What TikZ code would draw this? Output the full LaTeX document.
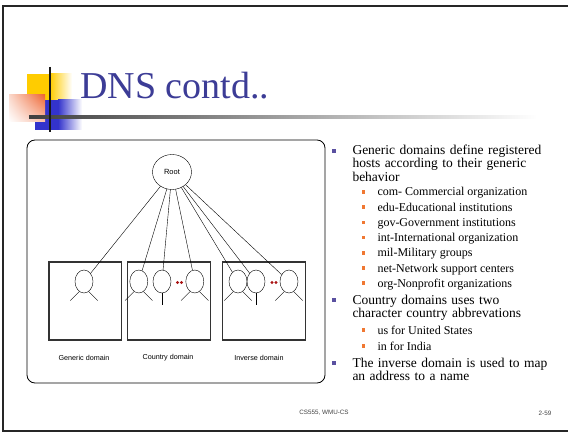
\documentclass[tikz,border=0pt]{standalone}
\usepackage{fontspec}
\setmainfont{Liberation Serif}
\setsansfont{Liberation Sans}
\usetikzlibrary{shapes.geometric,shadings}

\definecolor{titleblue}{RGB}{60,60,150}
\definecolor{deckyellow}{RGB}{255,204,0}
\definecolor{deckblue}{RGB}{51,51,204}
\definecolor{deckred}{RGB}{238,102,51}
\definecolor{dotred}{RGB}{170,20,20}
\definecolor{bulletpurple}{RGB}{90,80,160}
\definecolor{bulletorange}{RGB}{240,120,50}

\tikzset{
  host/.style={ellipse, draw, minimum width=18, minimum height=23, inner sep=0},
  domainbox/.style={draw, line width=1.2, black!80},
  domainlabel/.style={font=\sffamily\fontsize{7.2}{7.2}\selectfont, inner sep=0},
  mainbullet/.style={fill=bulletpurple, minimum size=4, inner sep=0},
  subbullet/.style={fill=bulletorange, minimum size=3.5, inner sep=0},
  maintext/.style={anchor=base west, align=left, text width=215, inner sep=0},
  subtext/.style={anchor=base west, inner sep=0, font=\fontsize{12}{12}\selectfont},
  footer/.style={font=\sffamily\fontsize{6.3}{6.3}\selectfont, text=black!75, inner sep=0}
}

\begin{document}
\begin{tikzpicture}[x=1pt,y=-1pt]
    \useasboundingbox (0,0) rectangle (568,433);

    % Slide frame
    \draw[line width=2, black!85] (568,6) -- (3,6) -- (3,431) -- (568,431);

    % Title decoration
    \fill[deckyellow] (27,74) rectangle (50,100);
    \shade[left color=deckyellow, right color=white] (50,74) rectangle (72,100);
    \fill[deckblue] (35,100) rectangle (58,130);
    \shade[left color=deckblue, right color=white] (58,100) rectangle (82,130);
    \shade[upper right=deckred, upper left=deckred!25, lower right=deckred!40, lower left=white] (9,95) rectangle (45,122);
    \shade[left color=black!75, right color=white] (29,116) rectangle (537,118.5);
    \draw[line width=2, black!90] (50,67) -- (50,132);
    \node[anchor=base west, inner sep=0, text=titleblue, font=\fontsize{38}{38}\selectfont] (title) at (80,99) {DNS contd..};

    % Name space tree
    \draw[rounded corners=8, line width=0.8] (27,140) rectangle (325,383);
    \node[ellipse, draw, minimum width=39, minimum height=35, inner sep=0, font=\sffamily\fontsize{7.5}{7.5}\selectfont] (root) at (172,172) {Root};

    \draw[domainbox] (49,262) rectangle (121.5,340);
    \draw[domainbox] (127.3,262) rectangle (210.7,340);
    \draw[domainbox] (222.7,262) rectangle (305.7,340);
    \node[domainlabel] (genlabel) at (84,358) {Generic domain};
    \node[domainlabel] (ctrylabel) at (168,358) {Country domain};
    \node[domainlabel] (invlabel) at (259,358) {Inverse domain};

    \node[host] (g1) at (84,281.5) {};
    \node[host] (c1) at (138.8,281.5) {};
    \node[host] (c2) at (162,281.5) {};
    \node[host] (c3) at (194.8,281.5) {};
    \node[host] (i1) at (238,281.5) {};
    \node[host] (i2) at (256,281.5) {};
    \node[host] (i3) at (289,281.5) {};

    \fill[dotred] (177.5,282.5) circle (1.6) (181.5,282.5) circle (1.6);
    \fill[dotred] (272,282.5) circle (1.6) (276,282.5) circle (1.6);

    \foreach \n in {g1,c1,c2,c3,i1,i2,i3}
        \draw (root) -- (\n);
    \foreach \n in {g1,c1,c3,i1,i3} {
        \draw (\n.-115) -- ++(-9,9);
        \draw (\n.-65) -- ++(9,9);
    }
    \foreach \n in {c2,i2}
        \draw (\n.south) -- ++(0,12);

    % Bullet list
    \node[mainbullet] (mb1) at (334,151) {};
    \node[maintext, font=\fontsize{13.5}{11.4}\selectfont] (mt1) at (352.3,154.5) {Generic domains define registered\\hosts according to their generic\\behavior};
    \foreach \txt [count=\k] in {com- Commercial organization, edu-Educational institutions, gov-Government institutions, int-International organization, mil-Military groups, net-Network support centers, org-Nonprofit organizations} {
        \node[subbullet] (sb\k) at (363.3,{192+15.2*(\k-1)}) {};
        \node[subtext] (st\k) at (377.3,{196+15.2*(\k-1)}) {\txt};
    }
    \node[mainbullet] (mb2) at (334,300) {};
    \node[maintext, font=\fontsize{13.5}{13.3}\selectfont] (mt2) at (352.3,304) {Country domains uses two\\character country abbrevations};
    \node[subbullet] (sb8) at (363.3,330) {};
    \node[subtext] (st8) at (377.3,334) {us for United States};
    \node[subbullet] (sb9) at (363.3,346) {};
    \node[subtext] (st9) at (377.3,350) {in for India};
    \node[mainbullet] (mb3) at (334,363) {};
    \node[maintext, font=\fontsize{13.5}{13}\selectfont] (mt3) at (352.3,367) {The inverse domain is used to map\\an address to a name};

    % Footer
    \node[footer] (course) at (324,413) {CS555, WMU-CS};
    \node[footer] (page) at (545,413) {2-59};
\end{tikzpicture}
\end{document}
